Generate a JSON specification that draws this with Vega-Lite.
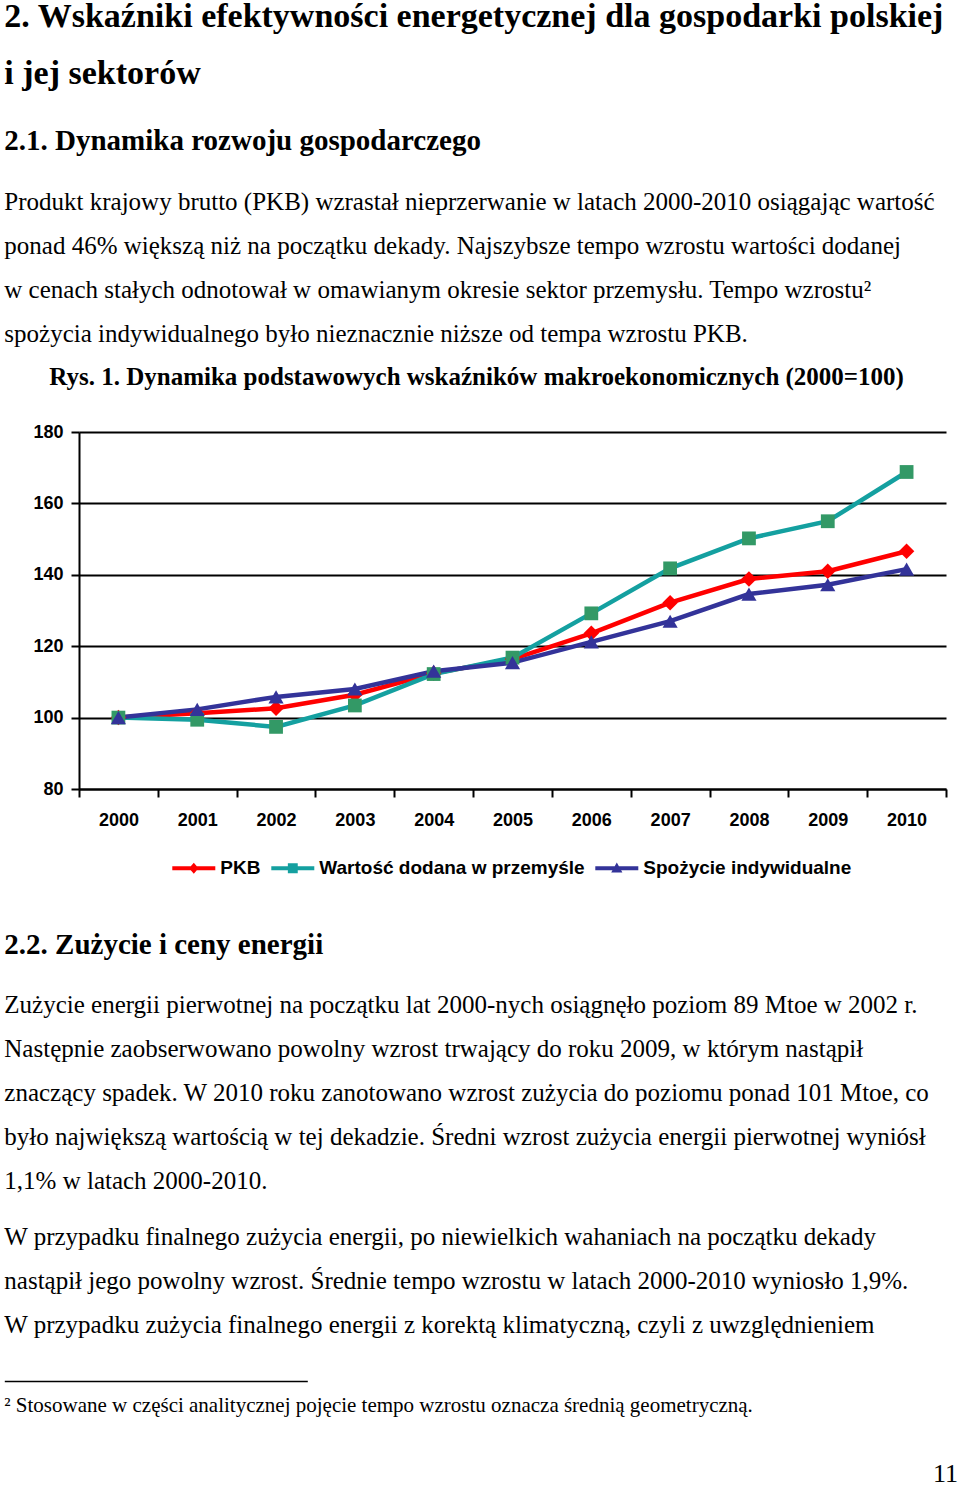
{
  "$schema": "https://vega.github.io/schema/vega-lite/v6.json",
  "padding": 0,
  "spacing": 0,
  "background": "white",
  "config": {
    "view": {"stroke": null},
    "title": {"color": "black", "anchor": "start", "baseline": "top"}
  },
  "resolve": {
    "scale": {"fill": "independent", "shape": "independent", "stroke": "independent"},
    "legend": {"fill": "independent", "shape": "independent", "stroke": "independent"}
  },
  "title": {
    "text": ["2. Wskaźniki efektywności energetycznej dla gospodarki polskiej", "i jej sektorów"],
    "frame": "bounds",
    "font": "Liberation Serif",
    "fontSize": 34,
    "fontWeight": "bold",
    "lineHeight": 57,
    "offset": 36,
    "dx": 4
  },
  "vconcat": [
    {
      "title": {"text": "2.1. Dynamika rozwoju gospodarczego", "frame": "group", "font": "Liberation Serif", "fontSize": 29, "fontWeight": "bold", "offset": 24, "dx": -74.7},
      "width": 870,
      "height": {"step": 44},
      "data": {"values": [
        {"line": 1, "text": "Produkt krajowy brutto (PKB) wzrastał nieprzerwanie w latach 2000-2010 osiągając wartość"},
        {"line": 2, "text": "ponad 46% większą niż na początku dekady. Najszybsze tempo wzrostu wartości dodanej"},
        {"line": 3, "text": "w cenach stałych odnotował w omawianym okresie sektor przemysłu. Tempo wzrostu²"},
        {"line": 4, "text": "spożycia indywidualnego było nieznacznie niższe od tempa wzrostu PKB."}
      ]},
      "mark": {"type": "text", "align": "left", "baseline": "middle", "font": "Liberation Serif", "fontSize": 25, "color": "black", "x": -74.7},
      "encoding": {
        "y": {"field": "line", "type": "ordinal", "axis": null, "scale": {"type": "point", "padding": 0.602, "align": 0.415}},
        "text": {"field": "text"}
      }
    },
    {
      "title": {"text": "Rys. 1. Dynamika podstawowych wskaźników makroekonomicznych (2000=100)", "frame": "group", "font": "Liberation Serif", "fontSize": 25, "fontWeight": "bold", "offset": 33, "dx": -29.7},
      "width": 867,
      "height": 357,
      "data": {"values": [
        {"year": "2000", "series": "PKB", "value": 100},
        {"year": "2001", "series": "PKB", "value": 101.2},
        {"year": "2002", "series": "PKB", "value": 102.6},
        {"year": "2003", "series": "PKB", "value": 106.4},
        {"year": "2004", "series": "PKB", "value": 112.4},
        {"year": "2005", "series": "PKB", "value": 116.4},
        {"year": "2006", "series": "PKB", "value": 123.6},
        {"year": "2007", "series": "PKB", "value": 132.2},
        {"year": "2008", "series": "PKB", "value": 138.8},
        {"year": "2009", "series": "PKB", "value": 141.0},
        {"year": "2010", "series": "PKB", "value": 146.6},
        {"year": "2000", "series": "Wartość dodana w przemyśle", "value": 100},
        {"year": "2001", "series": "Wartość dodana w przemyśle", "value": 99.4},
        {"year": "2002", "series": "Wartość dodana w przemyśle", "value": 97.4},
        {"year": "2003", "series": "Wartość dodana w przemyśle", "value": 103.4},
        {"year": "2004", "series": "Wartość dodana w przemyśle", "value": 112.2},
        {"year": "2005", "series": "Wartość dodana w przemyśle", "value": 116.8},
        {"year": "2006", "series": "Wartość dodana w przemyśle", "value": 129.2},
        {"year": "2007", "series": "Wartość dodana w przemyśle", "value": 141.8},
        {"year": "2008", "series": "Wartość dodana w przemyśle", "value": 150.2},
        {"year": "2009", "series": "Wartość dodana w przemyśle", "value": 155.0},
        {"year": "2010", "series": "Wartość dodana w przemyśle", "value": 168.8},
        {"year": "2000", "series": "Spożycie indywidualne", "value": 100},
        {"year": "2001", "series": "Spożycie indywidualne", "value": 102.3},
        {"year": "2002", "series": "Spożycie indywidualne", "value": 105.8},
        {"year": "2003", "series": "Spożycie indywidualne", "value": 108.0},
        {"year": "2004", "series": "Spożycie indywidualne", "value": 113.0},
        {"year": "2005", "series": "Spożycie indywidualne", "value": 115.4},
        {"year": "2006", "series": "Spożycie indywidualne", "value": 121.2},
        {"year": "2007", "series": "Spożycie indywidualne", "value": 127.0},
        {"year": "2008", "series": "Spożycie indywidualne", "value": 134.6},
        {"year": "2009", "series": "Spożycie indywidualne", "value": 137.2},
        {"year": "2010", "series": "Spożycie indywidualne", "value": 141.6}
      ]},
      "encoding": {
        "x": {
          "field": "year", "type": "ordinal", "bandPosition": 0.5,
          "scale": {"type": "band", "paddingInner": 0, "paddingOuter": 0},
          "axis": {"title": null, "labelAngle": 0, "tickBand": "extent", "grid": false,
                   "domainColor": "black", "domainWidth": 2, "tickColor": "black", "tickWidth": 2, "tickSize": 8,
                   "labelFont": "Liberation Sans", "labelFontWeight": "bold", "labelFontSize": 18, "labelColor": "black", "labelPadding": 14}
        },
        "y": {
          "field": "value", "type": "quantitative",
          "scale": {"domain": [80, 180], "nice": false, "zero": false},
          "axis": {"values": [80, 100, 120, 140, 160, 180], "grid": true, "gridColor": "black", "gridWidth": 2, "gridOpacity": 1,
                   "domainColor": "black", "domainWidth": 2, "tickColor": "black", "tickWidth": 2, "tickSize": 8,
                   "labelFont": "Liberation Sans", "labelFontWeight": "bold", "labelFontSize": 18, "labelColor": "black", "labelPadding": 8,
                   "title": " ", "titleAngle": 0, "titleX": -78.7, "titleY": 0, "titleAlign": "left", "titleFontSize": 6}
        }
      },
      "layer": [
        {
          "mark": {"type": "line", "strokeWidth": 4.5},
          "encoding": {
            "stroke": {"field": "series", "type": "nominal", "legend": null,
                       "scale": {"range": ["#ff0000", "#333399", "#14a0a0"]}}
          }
        },
        {
          "transform": [{"filter": "datum.series === 'PKB'"}],
          "mark": {"type": "point", "shape": "diamond", "filled": true, "size": 240, "color": "#ff0000", "opacity": 1}
        },
        {
          "transform": [{"filter": "datum.series === 'Wartość dodana w przemyśle'"}],
          "mark": {"type": "point", "shape": "square", "filled": true, "size": 190, "color": "#339966", "opacity": 1}
        },
        {
          "transform": [{"filter": "datum.series === 'Spożycie indywidualne'"}],
          "mark": {"type": "point", "shape": "triangle-up", "filled": true, "size": 230, "color": "#333399", "opacity": 1}
        },
        {
          "transform": [{"filter": "false"}],
          "mark": {"type": "point", "filled": true, "opacity": 1, "size": 1849, "strokeWidth": 0},
          "encoding": {
            "fill": {"field": "series", "type": "nominal",
                     "scale": {"domain": ["PKB", "Wartość dodana w przemyśle", "Spożycie indywidualne"], "range": ["#ff0000", "#14a0a0", "#333399"]},
                     "legend": {"title": null, "orient": "none", "legendX": 40.8, "legendY": 362, "direction": "horizontal", "padding": 52.5,
                                "symbolSize": 1849, "symbolStrokeWidth": 0,
                                "labelFont": "Liberation Sans", "labelFontWeight": "bold", "labelFontSize": 19, "labelColor": "black",
                                "labelOffset": 5, "labelLimit": 400, "columnPadding": 10}},
            "shape": {"field": "series", "type": "nominal",
                      "scale": {"domain": ["PKB", "Wartość dodana w przemyśle", "Spożycie indywidualne"],
                                "range": ["M-1,-0.09H1V0.09H-1Z M0,-0.26L0.22,0L0,0.26L-0.22,0Z",
                                          "M-1,-0.09H1V0.09H-1Z M-0.23,-0.23H0.23V0.23H-0.23Z",
                                          "M-1,-0.09H1V0.09H-1Z M0,-0.27L0.26,0.2L-0.26,0.2Z"]},
                      "legend": {"title": null, "orient": "none", "legendX": 40.8, "legendY": 362, "direction": "horizontal", "padding": 52.5,
                                 "symbolSize": 1849, "symbolStrokeWidth": 0,
                                 "labelFont": "Liberation Sans", "labelFontWeight": "bold", "labelFontSize": 19, "labelColor": "black",
                                 "labelOffset": 5, "labelLimit": 400, "columnPadding": 10}}
          }
        }
      ]
    },
    {
      "title": {"text": "2.2. Zużycie i ceny energii", "frame": "group", "font": "Liberation Serif", "fontSize": 29, "fontWeight": "bold", "offset": 23, "dx": -74.7},
      "width": 870,
      "height": {"step": 44},
      "data": {"values": [
        {"line": 1, "text": "Zużycie energii pierwotnej na początku lat 2000-nych osiągnęło poziom 89 Mtoe w 2002 r."},
        {"line": 2, "text": "Następnie zaobserwowano powolny wzrost trwający do roku 2009, w którym nastąpił"},
        {"line": 3, "text": "znaczący spadek. W 2010 roku zanotowano wzrost zużycia do poziomu ponad 101 Mtoe, co"},
        {"line": 4, "text": "było największą wartością w tej dekadzie. Średni wzrost zużycia energii pierwotnej wyniósł"},
        {"line": 5, "text": "1,1% w latach 2000-2010."}
      ]},
      "mark": {"type": "text", "align": "left", "baseline": "middle", "font": "Liberation Serif", "fontSize": 25, "color": "black", "x": -74.7},
      "encoding": {
        "y": {"field": "line", "type": "ordinal", "axis": null, "scale": {"type": "point", "padding": 0.636, "align": 0.393}},
        "text": {"field": "text"}
      }
    },
    {
      "width": 870,
      "height": {"step": 44},
      "data": {"values": [
        {"line": 1, "text": "W przypadku finalnego zużycia energii, po niewielkich wahaniach na początku dekady"},
        {"line": 2, "text": "nastąpił jego powolny wzrost. Średnie tempo wzrostu w latach 2000-2010 wyniosło 1,9%."},
        {"line": 3, "text": "W przypadku zużycia finalnego energii z korektą klimatyczną, czyli z uwzględnieniem"}
      ]},
      "mark": {"type": "text", "align": "left", "baseline": "middle", "font": "Liberation Serif", "fontSize": 25, "color": "black", "x": -74.7},
      "encoding": {
        "y": {"field": "line", "type": "ordinal", "axis": null, "scale": {"type": "point", "padding": 0.886, "align": 0.282}},
        "text": {"field": "text"}
      }
    },
    {
      "width": 303,
      "height": 50,
      "data": {"values": [{"note": "² Stosowane w części analitycznej pojęcie tempo wzrostu oznacza średnią geometryczną."}]},
      "mark": {"type": "text", "align": "left", "baseline": "middle", "font": "Liberation Serif", "fontSize": 21, "color": "black"},
      "encoding": {
        "text": {"field": "note"},
        "x": {"datum": 0, "type": "quantitative", "scale": {"domain": [0, 1], "range": [-74.7, 228.3]},
              "axis": {"orient": "top", "domain": true, "domainColor": "black", "domainWidth": 1.5, "ticks": false, "labels": false, "grid": false, "title": null}}
      }
    },
    {
      "width": 879,
      "height": 53,
      "data": {"values": [{"page": "11"}]},
      "mark": {"type": "text", "align": "right", "baseline": "alphabetic", "dy": -2, "font": "Liberation Serif", "fontSize": 26, "color": "black"},
      "encoding": {
        "text": {"field": "page"},
        "x": {"datum": 1, "type": "quantitative", "scale": {"domain": [0, 1]}, "axis": null},
        "y": {"datum": 0, "type": "quantitative", "scale": {"domain": [0, 1]}, "axis": null}
      }
    }
  ]
}
